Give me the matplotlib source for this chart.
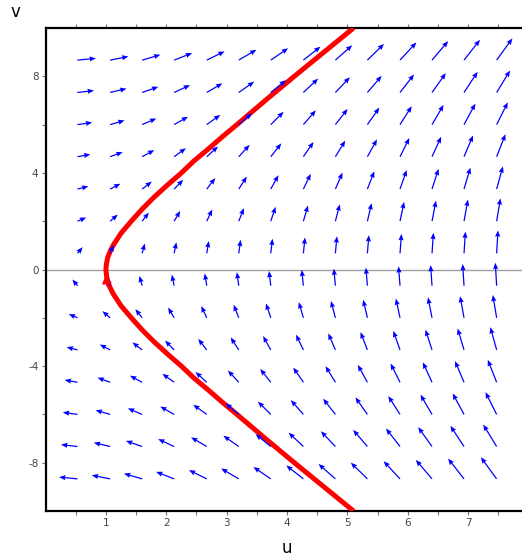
import numpy as np
import matplotlib
matplotlib.use("Agg")
import matplotlib.pyplot as plt

# direction field grid (arrow tails)
u_grid = [0.53, 1.07, 1.60, 2.13, 2.67, 3.20, 3.73, 4.27, 4.80, 5.33, 5.87, 6.40, 6.93, 7.47]
v_grid = [8.67, 7.33, 6.0, 4.67, 3.33, 2.0, 0.67, -0.67, -2.0, -3.33, -4.67, -6.0, -7.33, -8.67]

# horizontal component depends on the row, vertical component on the column
row_du = [8.7, 7.3, 6.0, 4.7, 3.3, 2.0, 0.7, -0.7, -2.0, -3.3, -4.7, -6.0, -7.3, -8.7]
col_dv = [2.1, 4.3, 6.4, 8.5, 10.7, 12.8, 14.9, 17.1, 19.2, 21.3, 23.5, 25.6, 27.7, 29.9]

# red trajectory through (1, 0)
curve_v = [-10, -9, -8, -7, -6, -5.5, -5, -4.5, -4, -3.5, -3, -2.5, -2, -1.5, -1, -0.75, -0.5, -0.25, 0,
           0.25, 0.5, 0.75, 1, 1.5, 2, 2.5, 3, 3.5, 4, 4.5, 5, 5.5, 6, 7, 8, 9, 10]
curve_u = [5.10, 4.61, 4.12, 3.64, 3.17, 2.93, 2.70, 2.46, 2.25, 2.02, 1.80, 1.60, 1.42, 1.25, 1.12, 1.07, 1.03, 1.01, 1.00,
           1.01, 1.03, 1.07, 1.12, 1.25, 1.42, 1.60, 1.80, 2.02, 2.25, 2.46, 2.70, 2.93, 3.17, 3.64, 4.12, 4.61, 5.10]

W, H = 522, 556
X0, X1 = 0.0, 7.89
Y0, Y1 = -10.0, 10.0
AX_W, AX_H = 476.5, 483.0

fig = plt.figure(figsize=(W / 100, H / 100), dpi=100)
ax = fig.add_axes([45.5 / W, 45 / H, AX_W / W, AX_H / H])
ax.set_xlim(X0, X1)
ax.set_ylim(Y0, Y1)

# arrows: direction in screen space, length grows with the scaled magnitude
U, V = np.meshgrid(u_grid, v_grid)
DU = np.tile(np.array(row_du)[:, None], (1, len(u_grid)))
DV = np.tile(np.array(col_dv)[None, :], (len(v_grid), 1))
px_u = AX_W / (X1 - X0)
px_v = AX_H / (Y1 - Y0)
nx = DU / 8.0
ny = DV / 20.0
m = np.hypot(nx, ny)
L = 6.5 + 11.0 * m  # pixels
QU = L * nx / m / px_u
QV = L * ny / m / px_v
ax.quiver(U, V, QU, QV, angles="xy", scale_units="xy", scale=1, pivot="tail",
          color="#0000FF", width=0.0026, headwidth=4.2, headlength=5.2,
          headaxislength=4.7, zorder=4)

ax.axhline(0, color="#A0A0A0", linewidth=1.0, zorder=1)

ax.plot(curve_u, curve_v, color="#FF0000", linewidth=3.6, zorder=3,
        solid_capstyle="butt", solid_joinstyle="round")
ax.annotate("", xy=(1.0, -0.2), xytext=(1.02, -0.7),
            arrowprops=dict(arrowstyle="-|>", color="#FF0000", lw=1.0,
                            mutation_scale=14, shrinkA=0, shrinkB=0),
            zorder=5)

for side in ["left", "bottom", "top"]:
    ax.spines[side].set_linewidth(1.6)
    ax.spines[side].set_color("black")
ax.spines["right"].set_visible(False)

ax.set_xticks([1, 2, 3, 4, 5, 6, 7])
ax.set_xticks(np.arange(0.5, 7.9, 0.5), minor=True)
ax.set_yticks([-8, -4, 0, 4, 8])
ax.set_yticks([-6, -2, 2, 6], minor=True)
ax.set_xticklabels(["1", "2", "3", "4", "5", "6", "7"])
ax.set_yticklabels(["-8", "-4", "0", "4", "8"])
ax.tick_params(axis="x", which="both", top=True, bottom=True, direction="out",
               length=3, width=0.8, color="#777777", labelsize=7.5,
               labelcolor="#444444", pad=2)
ax.tick_params(axis="y", which="both", left=True, right=False, direction="out",
               length=3, width=0.8, color="#777777", labelsize=7.5,
               labelcolor="#444444", pad=2)

fig.text(15 / W, 1 - 12 / H, "v", fontsize=12, ha="center", va="center")
fig.text(287 / W, 1 - 548 / H, "u", fontsize=12, ha="center", va="center")

fig.savefig("out.png", dpi=100)
